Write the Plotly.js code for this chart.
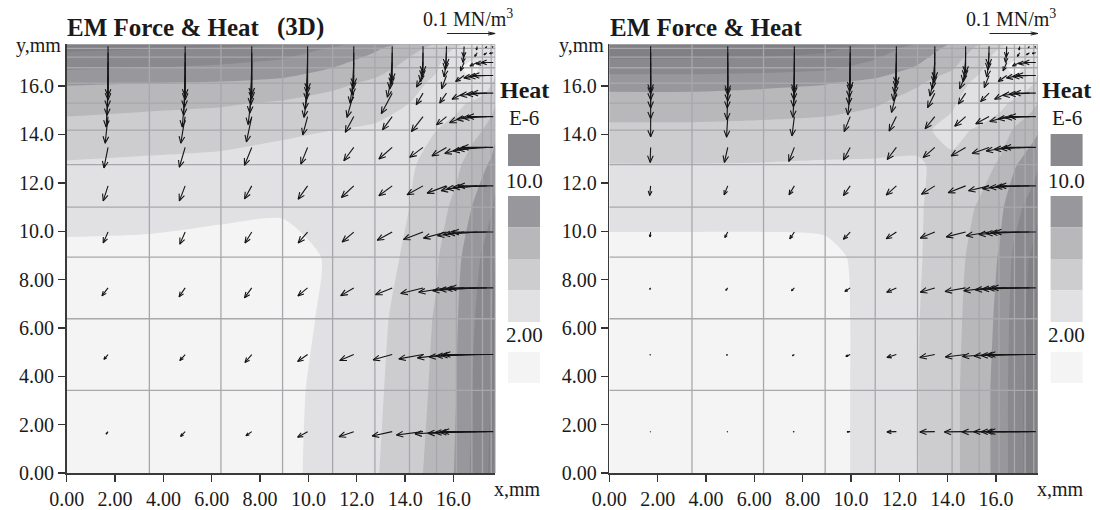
<!DOCTYPE html>
<html><head><meta charset="utf-8">
<script src="https://cdn.plot.ly/plotly-3.0.1.min.js"></script>
<style>html,body{margin:0;padding:0;background:#fff}</style>
</head><body><div id="chart" style="width:1100px;height:510px"></div>
<script>
// ---------- data ----------
// FEM mesh node coordinates (mm), same in x and y
const meshNodes = [0, 3.42, 6.38, 8.93, 11.0, 12.75, 14.18, 15.3, 16.12, 16.76, 17.2, 17.56, 17.73];
// axis ticks
const tickVals = [0, 2, 4, 6, 8, 10, 12, 14, 16];
const tickText = ["0.00", "2.00", "4.00", "6.00", "8.00", "10.0", "12.0", "14.0", "16.0"];
// heat (E-6) at mesh nodes, rows = y nodes (bottom->top), cols = x nodes
const heat3D = [
  [0.8, 0.9, 1.2, 1.6, 2.6, 3.8, 5.4, 6.6, 8.2, 10.3, 11.3, 12.4, 13.4],
  [0.9, 1.0, 1.3, 1.7, 2.35, 3.6, 5.1, 6.4, 8.0, 10.0, 11.0, 12.1, 13.1],
  [1.2, 1.3, 1.45, 1.85, 2.08, 3.4, 4.9, 6.2, 7.8, 9.7, 10.7, 11.8, 12.8],
  [1.6, 1.7, 1.85, 1.9, 2.03, 3.0, 4.4, 5.8, 7.4, 9.2, 10.2, 11.2, 12.0],
  [2.6, 2.35, 2.08, 2.03, 2.4, 3.0, 4.0, 5.2, 6.5, 8.0, 9.0, 9.8, 10.5],
  [3.8, 3.6, 3.4, 3.0, 3.0, 3.2, 3.8, 4.6, 5.6, 6.8, 7.6, 8.3, 9.0],
  [5.4, 5.1, 4.9, 4.4, 4.0, 3.8, 3.6, 4.0, 4.6, 5.4, 6.0, 6.8, 7.5],
  [6.6, 6.4, 6.2, 5.8, 5.2, 4.6, 4.0, 3.4, 3.6, 4.2, 4.6, 5.2, 5.8],
  [8.2, 8.0, 7.8, 7.4, 6.5, 5.6, 4.6, 3.6, 2.4, 2.2, 3.0, 3.8, 4.4],
  [10.3, 10.0, 9.7, 9.2, 8.0, 6.8, 5.4, 4.2, 2.2, 1.6, 2.2, 3.0, 3.6],
  [11.3, 11.0, 10.7, 10.2, 9.0, 7.6, 6.0, 4.6, 3.0, 2.2, 2.0, 2.6, 3.2],
  [12.4, 12.1, 11.8, 11.2, 9.8, 8.3, 6.8, 5.2, 3.8, 3.0, 2.6, 2.6, 3.0],
  [13.4, 13.1, 12.8, 12.0, 10.5, 9.0, 7.5, 5.8, 4.4, 3.6, 3.2, 3.0, 3.0]
];
const heat2D = [
  [0.3, 0.35, 0.5, 1.2, 2.8, 3.95, 5.5, 7.2, 8.6, 11.0, 12.2, 13.2, 14.0],
  [0.35, 0.4, 0.55, 1.2, 2.8, 3.95, 5.5, 7.2, 8.6, 11.0, 12.2, 13.2, 14.0],
  [0.5, 0.55, 0.7, 1.25, 2.75, 3.9, 5.4, 7.0, 8.4, 10.8, 12.0, 13.0, 13.8],
  [1.2, 1.2, 1.25, 1.4, 2.8, 3.8, 5.2, 6.8, 8.1, 10.4, 11.5, 12.5, 13.2],
  [2.8, 2.8, 2.75, 2.8, 3.2, 3.8, 4.9, 6.2, 7.4, 9.3, 10.2, 11.0, 11.6],
  [3.95, 3.95, 3.9, 3.8, 3.8, 3.9, 4.3, 5.2, 6.2, 7.8, 8.6, 9.3, 9.8],
  [5.5, 5.5, 5.4, 5.2, 4.9, 4.3, 3.6, 4.2, 5.0, 6.2, 6.8, 7.4, 7.8],
  [7.2, 7.2, 7.0, 6.8, 6.2, 5.2, 4.2, 3.0, 3.4, 4.4, 5.0, 5.6, 6.0],
  [8.6, 8.6, 8.4, 8.1, 7.4, 6.2, 5.0, 3.4, 2.2, 2.4, 3.2, 4.0, 4.6],
  [11.0, 11.0, 10.8, 10.4, 9.3, 7.8, 6.2, 4.4, 2.4, 1.6, 2.2, 3.0, 3.6],
  [12.2, 12.2, 12.0, 11.5, 10.2, 8.6, 6.8, 5.0, 3.2, 2.2, 2.0, 2.6, 3.2],
  [13.2, 13.2, 13.0, 12.5, 11.0, 9.3, 7.4, 5.6, 4.0, 3.0, 2.6, 2.6, 3.0],
  [14.0, 14.0, 13.8, 13.2, 11.6, 9.8, 7.8, 6.0, 4.6, 3.6, 3.2, 3.0, 3.0]
];
// heat contour levels and band colours (below first level ... above last)
const heatLevels = [2, 4, 6, 8, 10, 12, 14];
const bandColors = ['#f4f4f4', '#e1e1e3', '#cdcdd0', '#b8b8bb', '#98989c', '#8a8a8e', '#818185', '#77777b'];
// EM force per element (kN/m^3), rows = element rows (bottom->top), cols = element columns
const fx3D = [
  [-4, -9.5, -12, -20.5, -30.5, -41.5, -55, -65, -75, -87.5, -97.5, -105],
  [-8.5, -11, -14, -20.5, -29, -39.5, -50, -60, -72.5, -85, -95, -102.5],
  [-12.5, -12.5, -15, -20, -27, -34.5, -46, -57.5, -65, -77.5, -85, -90],
  [-10, -11, -14, -19.5, -24, -31, -40.5, -47.5, -55, -70, -80, -85],
  [-10, -12, -15, -19.5, -25.5, -27.5, -33, -40, -47.5, -62.5, -70, -72.5],
  [-8.5, -12, -15, -14, -20.5, -27.5, -27.5, -30, -40, -50, -60, -65],
  [-6, -9, -11, -10, -17.5, -20, -24, -20.5, -30, -42.5, -50, -53.5],
  [-4, -6, -7.5, -7.5, -14, -22.5, -14, -14, -25, -35, -42.5, -45],
  [-2, -3, -4, -5, -7.5, -10, -13.5, -10, -17.5, -27.5, -37.5, -42.5],
  [-1, -1.5, -2, -2.5, -3, -5, -5, -5, -7.5, -15, -22.5, -25],
  [0, 0, 0, -1, -1, -1.5, -1.5, -2.5, -2.5, -5, -6, -7.5],
  [0, 0, 0, 0, 0, 0, 0, -1, -1, -1.5, -2.5, -2]
];
const fy3D = [
  [-5, -10, -8.5, -11.5, -10.5, -9, -7, -5, -3.5, -2, -1, 0],
  [-10, -12.5, -16.5, -14.5, -12.5, -11, -9, -7, -5, -3, -1.5, 0],
  [-16.5, -18.5, -20.5, -16.5, -16, -14, -11.5, -9, -6, -4, -2, 0],
  [-22.5, -25, -22.5, -22.5, -20.5, -17, -15.5, -12.5, -7.5, -5, -2.5, 0],
  [-31, -31, -27, -27.5, -24, -20.5, -18.5, -15, -10, -6, -3, 0],
  [-42.5, -41, -37, -34.5, -27.5, -24, -20.5, -17.5, -12.5, -7.5, -4, 0],
  [-55, -55, -52.5, -38, -32.5, -27.5, -31, -17, -12.5, -6, -3, 0],
  [-70, -70, -65, -50, -50, -42.5, -24, -20.5, -12.5, -5, -2.5, 0],
  [-82.5, -82.5, -77.5, -70, -57.5, -45, -24, -27.5, -12.5, -5, -2, 0],
  [-92.5, -92.5, -87.5, -77.5, -67.5, -55, -40, -30, -17.5, -7.5, -2.5, 0],
  [-97.5, -97.5, -95, -85, -75, -65, -50, -35, -20, -7.5, -4, -1.5],
  [-102.5, -102.5, -100, -90, -80, -70, -55, -40, -22.5, -7.5, -3, -2]
];
const fx2D = [
  [-1, -1.5, -2.5, -6.5, -19.5, -31, -44, -56, -68.5, -80, -90, -97.5],
  [-1.5, -2.5, -4, -9, -19.5, -31, -42, -55, -67.5, -80, -90, -97.5],
  [-2, -4, -6, -11, -20, -30, -42.5, -52.5, -65, -77.5, -86, -91],
  [-1.5, -6, -9.5, -14, -21, -30, -40, -47.5, -57.5, -70, -80, -85],
  [-2, -7.5, -11, -14, -21, -27.5, -36, -42.5, -50, -62.5, -70, -75],
  [-1, -7, -11.5, -14, -19, -24, -30, -35, -42.5, -52.5, -60, -65],
  [0, -2.5, -5, -12.5, -15, -20, -22.5, -27.5, -35, -45, -50, -55],
  [0, -1.5, -3, -5, -10, -15, -15, -17.5, -25, -35, -42.5, -45],
  [0, -1, -2, -3, -6, -10, -12.5, -10, -17.5, -27.5, -35, -40],
  [0, 0, -1, -2, -3, -5, -5, -5, -7.5, -15, -22.5, -25],
  [0, 0, 0, -1, -1, -1.5, -1.5, -2.5, -2.5, -5, -6, -7.5],
  [0, 0, 0, 0, 0, 0, 0, -1, -1, -1.5, -2.5, -2]
];
const fy2D = [
  [-0.3, -0.3, -0.3, -0.4, -0.5, -0.5, -0.5, -0.5, -0.3, -0.2, -0.1, 0],
  [-1, -1.5, -2.5, -4, -6, -6, -5, -4, -3, -2, -1, 0],
  [-3, -5, -6, -7.5, -9, -9, -7.5, -6, -4, -2.5, -1, 0],
  [-10, -11.5, -14, -15, -14, -12.5, -10, -7.5, -5, -3, -1.5, 0],
  [-20, -18.5, -18.5, -20, -19, -17.5, -14, -10, -6, -3.5, -2, 0],
  [-31, -31, -29, -26, -25, -21, -17.5, -12.5, -7.5, -4, -2, 0],
  [-42, -42.5, -40, -31, -30, -25, -20, -15, -10, -5, -2.5, 0],
  [-52.5, -55, -50, -45, -40, -30, -22.5, -17.5, -12.5, -5, -2.5, 0],
  [-67.5, -67.5, -65, -60, -52.5, -42.5, -27.5, -25, -12.5, -5, -2, 0],
  [-77.5, -80, -77.5, -72.5, -65, -55, -40, -30, -17.5, -7.5, -2.5, 0],
  [-85, -87.5, -85, -80, -72.5, -62.5, -50, -35, -20, -7.5, -4, -1.5],
  [-92.5, -95, -92.5, -87.5, -77.5, -67.5, -55, -40, -22.5, -7.5, -3, -2]
];
const refForce = 100;           // kN/m^3 = 0.1 MN/m^3 reference arrow
const legendLabels = ['10.0', '2.00'];

// ---------- drawing ----------
const W = 1100, H = 510;
const MM_PER_KN = 2.0 / 100;    // arrow scale: 0.1 MN/m^3 -> 2 mm
const XMAX = meshNodes[meshNodes.length - 1];
const centers = meshNodes.slice(0, -1).map((v, i) => (v + meshNodes[i + 1]) / 2);
const SERIF = 'Liberation Serif, Times New Roman, serif';
const TXT = '#1a1a1a';

const panels = [
  {dom: [66.7 / W, 495.3 / W], heat: heat3D, fx: fx3D, fy: fy3D, title: 'EM Force &amp; Heat', extra: '(3D)', off: 0},
  {dom: [609.3 / W, 1037.9 / W], heat: heat2D, fx: fx2D, fy: fy2D, title: 'EM Force &amp; Heat', extra: null, off: 542.6}
];
const domY = [1 - 473 / H, 1 - 44.3 / H];

const nb = bandColors.length;
const colorscale = bandColors.map((c, k) => [k / (nb - 1), c]);

function meshTrace(xa, ya) {
  const xs = [], ys = [];
  meshNodes.slice(1).forEach(v => {
    xs.push(v, v, null); ys.push(0, XMAX, null);
    xs.push(0, XMAX, null); ys.push(v, v, null);
  });
  return {type: 'scatter', mode: 'lines', x: xs, y: ys, xaxis: xa, yaxis: ya,
    line: {color: '#a8a8ac', width: 1.3}, hoverinfo: 'skip', showlegend: false};
}
function arrowTrace(FX, FY, xa, ya) {
  const xs = [], ys = [];
  const a = 0.40, ca = Math.cos(a), sa = Math.sin(a);
  for (let j = 0; j < FX.length; j++) for (let i = 0; i < FX[j].length; i++) {
    const dx = FX[j][i] * MM_PER_KN, dy = FY[j][i] * MM_PER_KN;
    const L = Math.hypot(dx, dy);
    if (L < 1e-6) continue;
    const x0 = centers[i], y0 = centers[j], x1 = x0 + dx, y1 = y0 + dy;
    xs.push(x0, x1, null); ys.push(y0, y1, null);
    const h = Math.min(0.3, 0.5 * L), vx = -dx / L, vy = -dy / L;
    const b1x = vx * ca - vy * sa, b1y = vx * sa + vy * ca;
    const b2x = vx * ca + vy * sa, b2y = -vx * sa + vy * ca;
    xs.push(x1 + h * b1x, x1, x1 + h * b2x, null);
    ys.push(y1 + h * b1y, y1, y1 + h * b2y, null);
  }
  return {type: 'scatter', mode: 'lines', x: xs, y: ys, xaxis: xa, yaxis: ya,
    line: {color: '#141414', width: 1.1}, hoverinfo: 'skip', showlegend: false};
}
// reference (0.1 MN/m^3) arrow, drawn with the panel's x scale, above the plot area
function refArrowTrace(xa) {
  const x1 = XMAX, x0 = XMAX - refForce * MM_PER_KN;
  return {type: 'scatter', mode: 'lines', xaxis: xa, yaxis: xa === 'x' ? 'y3' : 'y4',
    x: [x0, x1, null, x1 - 0.3, x1, x1 - 0.3], y: [0, 0, null, 0.12, 0, -0.12],
    line: {color: '#222', width: 1}, hoverinfo: 'skip', showlegend: false, cliponaxis: false};
}

const data = [];
const layout = {
  width: W, height: H, margin: {l: 0, r: 0, t: 0, b: 0},
  paper_bgcolor: '#fff', plot_bgcolor: 'rgba(0,0,0,0)', showlegend: false,
  annotations: [], shapes: []
};
const axBase = {
  range: [0, XMAX], showgrid: false, zeroline: false, ticks: 'outside', ticklen: 7,
  tickwidth: 1.3, tickcolor: '#333', showline: true, linecolor: '#3a3a3a', linewidth: 1.6,
  tickmode: 'array', tickvals: tickVals, ticktext: tickText, fixedrange: true,
  tickfont: {family: SERIF, size: 20, color: TXT}
};

panels.forEach((p, k) => {
  const xa = k === 0 ? 'x' : 'x2', ya = k === 0 ? 'y' : 'y2';
  const xk = k === 0 ? 'xaxis' : 'xaxis2', yk = k === 0 ? 'yaxis' : 'yaxis2';
  const rk = k === 0 ? 'yaxis3' : 'yaxis4';
  layout[xk] = Object.assign({}, axBase, {domain: p.dom, anchor: ya});
  layout[yk] = Object.assign({}, axBase, {domain: domY, anchor: xa});
  // thin strip axis above the plot, holding the reference arrow
  layout[rk] = {domain: [1 - 40 / H, 1 - 27 / H], range: [-0.5, 0.5], visible: false, anchor: xa, fixedrange: true};
  data.push({
    type: 'contour', x: meshNodes, y: meshNodes, z: p.heat, xaxis: xa, yaxis: ya,
    autocontour: false,
    contours: {start: heatLevels[0], end: heatLevels[heatLevels.length - 1], size: heatLevels[1] - heatLevels[0],
      coloring: 'fill', showlines: false},
    line: {width: 0, smoothing: 0.6},
    colorscale: colorscale, showscale: false, hoverinfo: 'skip'
  });
  data.push(meshTrace(xa, ya));
  data.push(arrowTrace(p.fx, p.fy, xa, ya));
  data.push(refArrowTrace(xa));

  const o = p.off;
  const ann = layout.annotations;
  const font = (s) => ({family: SERIF, size: s, color: TXT});
  ann.push({xref: 'paper', yref: 'paper', x: (65 + o) / W, y: 1 - 27 / H, xanchor: 'left', yanchor: 'middle',
    text: '<b>' + p.title + '</b>', showarrow: false, font: font(25)});
  if (p.extra) ann.push({xref: 'paper', yref: 'paper', x: (275 + o) / W, y: 1 - 27 / H, xanchor: 'left', yanchor: 'middle',
    text: '<b>' + p.extra + '</b>', showarrow: false, font: font(25)});
  ann.push({xref: 'paper', yref: 'paper', x: (468 + o) / W, y: 1 - 18 / H, xanchor: 'center', yanchor: 'middle',
    text: '0.1 MN/m<sup>3</sup>', showarrow: false, font: font(20)});
  ann.push({xref: 'paper', yref: 'paper', x: (63 + o) / W, y: 1 - 45 / H, xanchor: 'right', yanchor: 'middle',
    text: 'y,mm', showarrow: false, font: font(20)});
  ann.push({xref: 'paper', yref: 'paper', x: (492 + o) / W, y: 1 - 489 / H, xanchor: 'left', yanchor: 'middle',
    text: 'x,mm', showarrow: false, font: font(20)});
  // heat legend
  const lx = 524 + o;
  ann.push({xref: 'paper', yref: 'paper', x: lx / W, y: 1 - 90 / H, xanchor: 'center', yanchor: 'middle',
    text: '<b>Heat</b>', showarrow: false, font: font(24)});
  ann.push({xref: 'paper', yref: 'paper', x: lx / W, y: 1 - 118 / H, xanchor: 'center', yanchor: 'middle',
    text: 'E-6', showarrow: false, font: font(21)});
  ann.push({xref: 'paper', yref: 'paper', x: lx / W, y: 1 - 181 / H, xanchor: 'center', yanchor: 'middle',
    text: legendLabels[0], showarrow: false, font: font(21)});
  ann.push({xref: 'paper', yref: 'paper', x: lx / W, y: 1 - 335 / H, xanchor: 'center', yanchor: 'middle',
    text: legendLabels[1], showarrow: false, font: font(21)});
  const bx0 = (508 + o) / W, bx1 = (540 + o) / W;
  const box = (t, b, c) => layout.shapes.push({type: 'rect', xref: 'paper', yref: 'paper',
    x0: bx0, x1: bx1, y0: 1 - b / H, y1: 1 - t / H, fillcolor: c, line: {width: 0}, layer: 'above'});
  box(134, 166, bandColors[5]);
  const stackTop = 196, stackH = 126 / 4;
  for (let s = 0; s < 4; s++) box(stackTop + s * stackH, stackTop + (s + 1) * stackH, bandColors[4 - s]);
  box(352, 383, bandColors[0]);
});

Plotly.newPlot('chart', data, layout, {staticPlot: true, displayModeBar: false});
</script>
</body></html>
